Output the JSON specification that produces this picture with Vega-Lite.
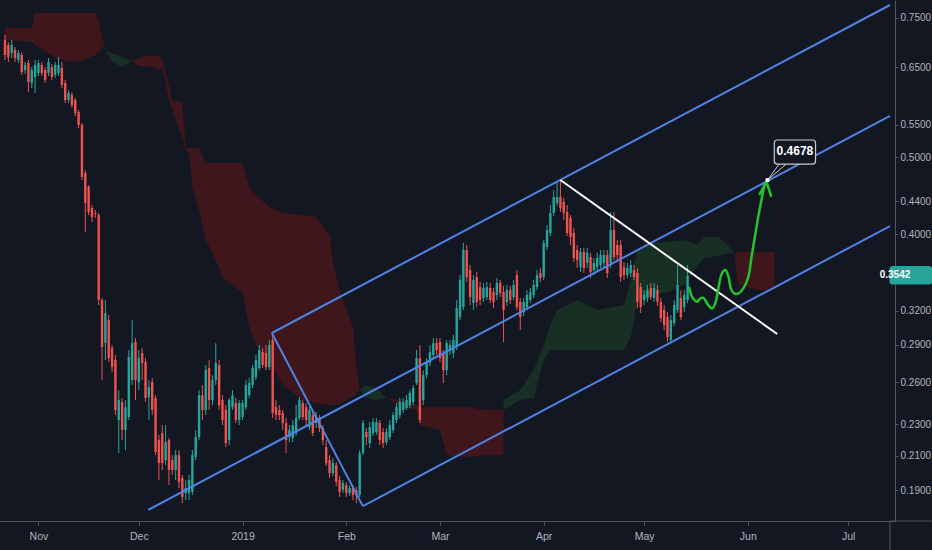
{
"$schema":"https://vega.github.io/schema/vega-lite/v6.json",
"width":895,"height":521,
"autosize":{"type":"none"},
"padding":{"left":0,"top":0,"right":37,"bottom":29},
"background":"#131722",
"config":{"view":{"stroke":null},"axis":{"grid":false,"labelFont":"Liberation Sans Narrow, Liberation Sans","labelFontSize":10,"labelColor":"#b2b5be","domainColor":"#50545f","tickColor":"#50545f"}},
"datasets":{
"candles":[
{"t":"2018-10-22","o":0.7035,"h":0.7139,"l":0.6638,"c":0.6736},
{"t":"2018-10-23","o":0.6934,"h":0.6994,"l":0.6599,"c":0.6696},
{"t":"2018-10-24","o":0.6775,"h":0.7035,"l":0.6677,"c":0.6934},
{"t":"2018-10-25","o":0.6834,"h":0.6893,"l":0.6599,"c":0.6677},
{"t":"2018-10-26","o":0.6638,"h":0.6834,"l":0.6580,"c":0.6775},
{"t":"2018-10-27","o":0.6736,"h":0.6794,"l":0.6354,"c":0.6410},
{"t":"2018-10-28","o":0.6447,"h":0.6599,"l":0.6372,"c":0.6542},
{"t":"2018-10-29","o":0.6580,"h":0.6638,"l":0.6048,"c":0.6226},
{"t":"2018-10-30","o":0.6208,"h":0.6504,"l":0.6118,"c":0.6447},
{"t":"2018-10-31","o":0.6317,"h":0.6638,"l":0.6030,"c":0.6542},
{"t":"2018-11-01","o":0.6391,"h":0.6638,"l":0.6335,"c":0.6580},
{"t":"2018-11-02","o":0.6542,"h":0.6599,"l":0.6335,"c":0.6391},
{"t":"2018-11-03","o":0.6447,"h":0.6504,"l":0.6208,"c":0.6262},
{"t":"2018-11-04","o":0.6391,"h":0.6677,"l":0.6335,"c":0.6599},
{"t":"2018-11-05","o":0.6504,"h":0.6561,"l":0.6262,"c":0.6317},
{"t":"2018-11-06","o":0.6354,"h":0.6599,"l":0.6299,"c":0.6542},
{"t":"2018-11-07","o":0.6391,"h":0.6696,"l":0.6335,"c":0.6542},
{"t":"2018-11-08","o":0.6485,"h":0.6599,"l":0.6118,"c":0.6172},
{"t":"2018-11-09","o":0.6208,"h":0.6262,"l":0.5857,"c":0.5908},
{"t":"2018-11-10","o":0.5908,"h":0.6083,"l":0.5857,"c":0.6030},
{"t":"2018-11-11","o":0.5995,"h":0.6048,"l":0.5772,"c":0.5823},
{"t":"2018-11-12","o":0.5908,"h":0.5943,"l":0.5640,"c":0.5689},
{"t":"2018-11-13","o":0.5706,"h":0.5739,"l":0.5446,"c":0.5494},
{"t":"2018-11-14","o":0.5494,"h":0.5526,"l":0.4681,"c":0.4722},
{"t":"2018-11-15","o":0.4777,"h":0.4819,"l":0.4024,"c":0.4379},
{"t":"2018-11-16","o":0.4586,"h":0.4614,"l":0.4228,"c":0.4265},
{"t":"2018-11-17","o":0.4315,"h":0.4353,"l":0.4143,"c":0.4203},
{"t":"2018-11-18","o":0.4253,"h":0.4290,"l":0.4191,"c":0.4240},
{"t":"2018-11-19","o":0.4228,"h":0.4253,"l":0.3254,"c":0.3302},
{"t":"2018-11-20","o":0.3302,"h":0.3321,"l":0.2616,"c":0.2880},
{"t":"2018-11-21","o":0.2913,"h":0.3302,"l":0.2773,"c":0.3179},
{"t":"2018-11-22","o":0.3115,"h":0.3161,"l":0.2757,"c":0.2789},
{"t":"2018-11-23","o":0.2871,"h":0.2897,"l":0.2677,"c":0.2717},
{"t":"2018-11-24","o":0.2773,"h":0.2814,"l":0.2363,"c":0.2398},
{"t":"2018-11-25","o":0.2329,"h":0.2541,"l":0.2115,"c":0.2468},
{"t":"2018-11-26","o":0.2454,"h":0.2483,"l":0.2197,"c":0.2262},
{"t":"2018-11-27","o":0.2262,"h":0.2468,"l":0.2134,"c":0.2418},
{"t":"2018-11-28","o":0.2350,"h":0.2855,"l":0.2329,"c":0.2797},
{"t":"2018-11-29","o":0.2616,"h":0.3115,"l":0.2578,"c":0.2913},
{"t":"2018-11-30","o":0.2922,"h":0.2956,"l":0.2468,"c":0.2616},
{"t":"2018-12-01","o":0.2601,"h":0.2855,"l":0.2541,"c":0.2789},
{"t":"2018-12-02","o":0.2830,"h":0.2871,"l":0.2616,"c":0.2749},
{"t":"2018-12-03","o":0.2757,"h":0.2789,"l":0.2454,"c":0.2483},
{"t":"2018-12-04","o":0.2490,"h":0.2616,"l":0.2329,"c":0.2563},
{"t":"2018-12-05","o":0.2601,"h":0.2631,"l":0.2363,"c":0.2398},
{"t":"2018-12-06","o":0.2483,"h":0.2504,"l":0.2103,"c":0.2122},
{"t":"2018-12-07","o":0.2197,"h":0.2229,"l":0.1956,"c":0.2055},
{"t":"2018-12-08","o":0.2242,"h":0.2295,"l":0.2014,"c":0.2055},
{"t":"2018-12-09","o":0.2073,"h":0.2295,"l":0.2043,"c":0.2184},
{"t":"2018-12-10","o":0.2197,"h":0.2210,"l":0.1928,"c":0.2014},
{"t":"2018-12-11","o":0.2073,"h":0.2103,"l":0.1985,"c":0.2014},
{"t":"2018-12-12","o":0.2014,"h":0.2134,"l":0.1956,"c":0.2103},
{"t":"2018-12-13","o":0.2103,"h":0.2134,"l":0.1911,"c":0.1945},
{"t":"2018-12-14","o":0.1968,"h":0.1985,"l":0.1829,"c":0.1862},
{"t":"2018-12-15","o":0.1883,"h":0.1956,"l":0.1845,"c":0.1911},
{"t":"2018-12-16","o":0.1883,"h":0.1985,"l":0.1845,"c":0.1956},
{"t":"2018-12-17","o":0.1889,"h":0.2134,"l":0.1873,"c":0.2103},
{"t":"2018-12-18","o":0.2091,"h":0.2262,"l":0.2073,"c":0.2216},
{"t":"2018-12-19","o":0.2216,"h":0.2541,"l":0.2197,"c":0.2504},
{"t":"2018-12-20","o":0.2504,"h":0.2578,"l":0.2329,"c":0.2398},
{"t":"2018-12-21","o":0.2398,"h":0.2733,"l":0.2363,"c":0.2693},
{"t":"2018-12-22","o":0.2709,"h":0.2773,"l":0.2398,"c":0.2468},
{"t":"2018-12-23","o":0.2468,"h":0.2654,"l":0.2432,"c":0.2616},
{"t":"2018-12-24","o":0.2616,"h":0.2913,"l":0.2578,"c":0.2749},
{"t":"2018-12-25","o":0.2733,"h":0.2773,"l":0.2398,"c":0.2432},
{"t":"2018-12-26","o":0.2468,"h":0.2504,"l":0.2295,"c":0.2329},
{"t":"2018-12-27","o":0.2398,"h":0.2432,"l":0.2153,"c":0.2178},
{"t":"2018-12-28","o":0.2197,"h":0.2483,"l":0.2165,"c":0.2468},
{"t":"2018-12-29","o":0.2418,"h":0.2541,"l":0.2398,"c":0.2504},
{"t":"2018-12-30","o":0.2447,"h":0.2483,"l":0.2309,"c":0.2329},
{"t":"2018-12-31","o":0.2329,"h":0.2468,"l":0.2295,"c":0.2447},
{"t":"2019-01-01","o":0.2350,"h":0.2468,"l":0.2329,"c":0.2447},
{"t":"2019-01-02","o":0.2418,"h":0.2616,"l":0.2398,"c":0.2578},
{"t":"2019-01-03","o":0.2504,"h":0.2631,"l":0.2483,"c":0.2593},
{"t":"2019-01-04","o":0.2578,"h":0.2733,"l":0.2556,"c":0.2709},
{"t":"2019-01-05","o":0.2639,"h":0.2814,"l":0.2616,"c":0.2773},
{"t":"2019-01-06","o":0.2709,"h":0.2897,"l":0.2693,"c":0.2855},
{"t":"2019-01-07","o":0.2838,"h":0.2871,"l":0.2709,"c":0.2733},
{"t":"2019-01-08","o":0.2830,"h":0.2897,"l":0.2693,"c":0.2717},
{"t":"2019-01-09","o":0.2717,"h":0.2939,"l":0.2693,"c":0.2897},
{"t":"2019-01-10","o":0.2939,"h":0.3000,"l":0.2343,"c":0.2377},
{"t":"2019-01-11","o":0.2418,"h":0.2468,"l":0.2329,"c":0.2363},
{"t":"2019-01-12","o":0.2398,"h":0.2432,"l":0.2329,"c":0.2363},
{"t":"2019-01-13","o":0.2377,"h":0.2398,"l":0.2262,"c":0.2309},
{"t":"2019-01-14","o":0.2309,"h":0.2343,"l":0.2115,"c":0.2197},
{"t":"2019-01-15","o":0.2216,"h":0.2295,"l":0.2184,"c":0.2262},
{"t":"2019-01-16","o":0.2210,"h":0.2329,"l":0.2184,"c":0.2295},
{"t":"2019-01-17","o":0.2242,"h":0.2432,"l":0.2223,"c":0.2343},
{"t":"2019-01-18","o":0.2343,"h":0.2490,"l":0.2329,"c":0.2468},
{"t":"2019-01-19","o":0.2447,"h":0.2468,"l":0.2329,"c":0.2350},
{"t":"2019-01-20","o":0.2418,"h":0.2447,"l":0.2295,"c":0.2329},
{"t":"2019-01-21","o":0.2282,"h":0.2432,"l":0.2262,"c":0.2398},
{"t":"2019-01-22","o":0.2363,"h":0.2384,"l":0.2223,"c":0.2242},
{"t":"2019-01-23","o":0.2309,"h":0.2384,"l":0.2275,"c":0.2350},
{"t":"2019-01-24","o":0.2343,"h":0.2363,"l":0.2249,"c":0.2275},
{"t":"2019-01-25","o":0.2275,"h":0.2295,"l":0.2165,"c":0.2197},
{"t":"2019-01-26","o":0.2153,"h":0.2197,"l":0.2037,"c":0.2055},
{"t":"2019-01-27","o":0.2073,"h":0.2103,"l":0.1968,"c":0.1996},
{"t":"2019-01-28","o":0.1996,"h":0.2085,"l":0.1979,"c":0.2055},
{"t":"2019-01-29","o":0.2043,"h":0.2061,"l":0.1922,"c":0.1945},
{"t":"2019-01-30","o":0.1956,"h":0.1979,"l":0.1862,"c":0.1889},
{"t":"2019-01-31","o":0.1900,"h":0.1956,"l":0.1883,"c":0.1939},
{"t":"2019-02-01","o":0.1928,"h":0.1945,"l":0.1862,"c":0.1883},
{"t":"2019-02-02","o":0.1883,"h":0.1928,"l":0.1867,"c":0.1911},
{"t":"2019-02-03","o":0.1911,"h":0.1928,"l":0.1845,"c":0.1873},
{"t":"2019-02-04","o":0.1900,"h":0.1917,"l":0.1829,"c":0.1873},
{"t":"2019-02-05","o":0.1873,"h":0.2134,"l":0.1862,"c":0.2115},
{"t":"2019-02-06","o":0.2115,"h":0.2329,"l":0.2103,"c":0.2309},
{"t":"2019-02-07","o":0.2249,"h":0.2275,"l":0.2165,"c":0.2216},
{"t":"2019-02-08","o":0.2178,"h":0.2315,"l":0.2147,"c":0.2282},
{"t":"2019-02-09","o":0.2242,"h":0.2343,"l":0.2223,"c":0.2315},
{"t":"2019-02-10","o":0.2249,"h":0.2343,"l":0.2229,"c":0.2315},
{"t":"2019-02-11","o":0.2309,"h":0.2329,"l":0.2165,"c":0.2197},
{"t":"2019-02-12","o":0.2249,"h":0.2275,"l":0.2147,"c":0.2178},
{"t":"2019-02-13","o":0.2184,"h":0.2275,"l":0.2165,"c":0.2249},
{"t":"2019-02-14","o":0.2216,"h":0.2329,"l":0.2197,"c":0.2295},
{"t":"2019-02-15","o":0.2262,"h":0.2384,"l":0.2242,"c":0.2363},
{"t":"2019-02-16","o":0.2329,"h":0.2447,"l":0.2309,"c":0.2418},
{"t":"2019-02-17","o":0.2363,"h":0.2483,"l":0.2343,"c":0.2454},
{"t":"2019-02-18","o":0.2398,"h":0.2483,"l":0.2377,"c":0.2454},
{"t":"2019-02-19","o":0.2411,"h":0.2504,"l":0.2398,"c":0.2468},
{"t":"2019-02-20","o":0.2432,"h":0.2541,"l":0.2411,"c":0.2519},
{"t":"2019-02-21","o":0.2454,"h":0.2578,"l":0.2432,"c":0.2556},
{"t":"2019-02-22","o":0.2593,"h":0.2855,"l":0.2578,"c":0.2789},
{"t":"2019-02-23","o":0.2789,"h":0.2897,"l":0.2309,"c":0.2329},
{"t":"2019-02-24","o":0.2468,"h":0.2693,"l":0.2432,"c":0.2654},
{"t":"2019-02-25","o":0.2654,"h":0.2789,"l":0.2631,"c":0.2757},
{"t":"2019-02-26","o":0.2749,"h":0.2897,"l":0.2725,"c":0.2838},
{"t":"2019-02-27","o":0.2814,"h":0.2956,"l":0.2789,"c":0.2913},
{"t":"2019-02-28","o":0.2913,"h":0.2956,"l":0.2814,"c":0.2855},
{"t":"2019-03-01","o":0.2922,"h":0.2956,"l":0.2757,"c":0.2789},
{"t":"2019-03-02","o":0.2830,"h":0.2855,"l":0.2593,"c":0.2693},
{"t":"2019-03-03","o":0.2693,"h":0.2939,"l":0.2654,"c":0.2913},
{"t":"2019-03-04","o":0.2855,"h":0.2939,"l":0.2814,"c":0.2897},
{"t":"2019-03-05","o":0.2830,"h":0.2982,"l":0.2789,"c":0.2939},
{"t":"2019-03-06","o":0.2880,"h":0.3302,"l":0.2855,"c":0.3226},
{"t":"2019-03-07","o":0.3142,"h":0.3551,"l":0.3115,"c":0.3500},
{"t":"2019-03-08","o":0.3235,"h":0.3898,"l":0.3207,"c":0.3819},
{"t":"2019-03-09","o":0.3819,"h":0.3875,"l":0.3480,"c":0.3530},
{"t":"2019-03-10","o":0.3603,"h":0.3656,"l":0.3254,"c":0.3330},
{"t":"2019-03-11","o":0.3273,"h":0.3551,"l":0.3207,"c":0.3500},
{"t":"2019-03-12","o":0.3530,"h":0.3582,"l":0.3235,"c":0.3283},
{"t":"2019-03-13","o":0.3429,"h":0.3480,"l":0.3254,"c":0.3302},
{"t":"2019-03-14","o":0.3321,"h":0.3470,"l":0.3283,"c":0.3420},
{"t":"2019-03-15","o":0.3330,"h":0.3480,"l":0.3302,"c":0.3429},
{"t":"2019-03-16","o":0.3420,"h":0.3470,"l":0.3273,"c":0.3302},
{"t":"2019-03-17","o":0.3379,"h":0.3420,"l":0.3226,"c":0.3283},
{"t":"2019-03-18","o":0.3350,"h":0.3520,"l":0.3302,"c":0.3470},
{"t":"2019-03-19","o":0.3470,"h":0.3500,"l":0.3330,"c":0.3369},
{"t":"2019-03-20","o":0.3379,"h":0.3440,"l":0.2922,"c":0.3207},
{"t":"2019-03-21","o":0.3283,"h":0.3450,"l":0.3245,"c":0.3399},
{"t":"2019-03-22","o":0.3399,"h":0.3440,"l":0.3264,"c":0.3302},
{"t":"2019-03-23","o":0.3330,"h":0.3500,"l":0.3302,"c":0.3450},
{"t":"2019-03-24","o":0.3551,"h":0.3603,"l":0.3207,"c":0.3235},
{"t":"2019-03-25","o":0.3283,"h":0.3321,"l":0.3026,"c":0.3142},
{"t":"2019-03-26","o":0.3188,"h":0.3321,"l":0.3152,"c":0.3283},
{"t":"2019-03-27","o":0.3235,"h":0.3399,"l":0.3207,"c":0.3350},
{"t":"2019-03-28","o":0.3302,"h":0.3420,"l":0.3273,"c":0.3379},
{"t":"2019-03-29","o":0.3350,"h":0.3500,"l":0.3321,"c":0.3450},
{"t":"2019-03-30","o":0.3429,"h":0.3603,"l":0.3399,"c":0.3551},
{"t":"2019-03-31","o":0.3572,"h":0.3624,"l":0.3480,"c":0.3520},
{"t":"2019-04-01","o":0.3530,"h":0.3932,"l":0.3500,"c":0.3898},
{"t":"2019-04-02","o":0.3853,"h":0.4107,"l":0.3819,"c":0.4048},
{"t":"2019-04-03","o":0.4013,"h":0.4353,"l":0.3978,"c":0.4253},
{"t":"2019-04-04","o":0.4253,"h":0.4547,"l":0.4216,"c":0.4455},
{"t":"2019-04-05","o":0.4379,"h":0.4654,"l":0.4341,"c":0.4455},
{"t":"2019-04-06","o":0.4455,"h":0.4681,"l":0.4265,"c":0.4315},
{"t":"2019-04-07","o":0.4391,"h":0.4442,"l":0.4167,"c":0.4253},
{"t":"2019-04-08","o":0.4265,"h":0.4353,"l":0.3978,"c":0.4013},
{"t":"2019-04-09","o":0.4191,"h":0.4228,"l":0.3875,"c":0.3966},
{"t":"2019-04-10","o":0.4013,"h":0.4071,"l":0.3687,"c":0.3731},
{"t":"2019-04-11","o":0.3819,"h":0.3875,"l":0.3624,"c":0.3709},
{"t":"2019-04-12","o":0.3634,"h":0.3842,"l":0.3582,"c":0.3797},
{"t":"2019-04-13","o":0.3797,"h":0.3842,"l":0.3572,"c":0.3624},
{"t":"2019-04-14","o":0.3677,"h":0.3842,"l":0.3624,"c":0.3786},
{"t":"2019-04-15","o":0.3742,"h":0.3786,"l":0.3520,"c":0.3582},
{"t":"2019-04-16","o":0.3603,"h":0.3731,"l":0.3551,"c":0.3677},
{"t":"2019-04-17","o":0.3634,"h":0.3786,"l":0.3582,"c":0.3731},
{"t":"2019-04-18","o":0.3656,"h":0.3819,"l":0.3624,"c":0.3764},
{"t":"2019-04-19","o":0.3677,"h":0.3819,"l":0.3624,"c":0.3764},
{"t":"2019-04-20","o":0.3764,"h":0.3819,"l":0.3520,"c":0.3572},
{"t":"2019-04-21","o":0.3677,"h":0.4265,"l":0.3624,"c":0.4048},
{"t":"2019-04-22","o":0.4048,"h":0.4265,"l":0.3709,"c":0.3742},
{"t":"2019-04-23","o":0.3875,"h":0.3932,"l":0.3687,"c":0.3764},
{"t":"2019-04-24","o":0.3875,"h":0.3932,"l":0.3480,"c":0.3530},
{"t":"2019-04-25","o":0.3634,"h":0.3687,"l":0.3500,"c":0.3551},
{"t":"2019-04-26","o":0.3551,"h":0.3677,"l":0.3520,"c":0.3624},
{"t":"2019-04-27","o":0.3572,"h":0.3709,"l":0.3530,"c":0.3656},
{"t":"2019-04-28","o":0.3603,"h":0.3656,"l":0.3500,"c":0.3530},
{"t":"2019-04-29","o":0.3572,"h":0.3624,"l":0.3226,"c":0.3283},
{"t":"2019-04-30","o":0.3429,"h":0.3470,"l":0.3179,"c":0.3235},
{"t":"2019-05-01","o":0.3302,"h":0.3399,"l":0.3254,"c":0.3350},
{"t":"2019-05-02","o":0.3321,"h":0.3450,"l":0.3283,"c":0.3399},
{"t":"2019-05-03","o":0.3420,"h":0.3470,"l":0.3302,"c":0.3330},
{"t":"2019-05-04","o":0.3321,"h":0.3470,"l":0.3283,"c":0.3420},
{"t":"2019-05-05","o":0.3399,"h":0.3450,"l":0.3245,"c":0.3283},
{"t":"2019-05-06","o":0.3283,"h":0.3321,"l":0.3097,"c":0.3133},
{"t":"2019-05-07","o":0.3207,"h":0.3254,"l":0.3026,"c":0.3070},
{"t":"2019-05-08","o":0.3142,"h":0.3188,"l":0.2922,"c":0.2965},
{"t":"2019-05-09","o":0.2939,"h":0.3161,"l":0.2913,"c":0.3115},
{"t":"2019-05-10","o":0.3088,"h":0.3302,"l":0.3061,"c":0.3254},
{"t":"2019-05-11","o":0.3207,"h":0.3656,"l":0.3179,"c":0.3450},
{"t":"2019-05-12","o":0.3321,"h":0.3399,"l":0.3115,"c":0.3142},
{"t":"2019-05-13","o":0.3235,"h":0.3399,"l":0.3188,"c":0.3350},
{"t":"2019-05-14","o":0.3302,"h":0.3656,"l":0.3273,"c":0.3542}
],
"cloudRed":[
{"s":1,"t":"2018-10-22","a":0.7286,"b":0.7035},
{"s":1,"t":"2018-10-30","a":0.7286,"b":0.6994},
{"s":1,"t":"2018-10-31","a":0.7610,"b":0.6934},
{"s":1,"t":"2018-11-07","a":0.7610,"b":0.6638},
{"s":1,"t":"2018-11-13","a":0.7610,"b":0.6599},
{"s":1,"t":"2018-11-18","a":0.7610,"b":0.6736},
{"s":1,"t":"2018-11-19","a":0.7457,"b":0.6794},
{"s":1,"t":"2018-11-20","a":0.7118,"b":0.6893},
{"s":1,"t":"2018-11-21","a":0.6834,"b":0.6834},
{"s":3,"t":"2018-11-29","a":0.6619,"b":0.6619},
{"s":3,"t":"2018-12-01","a":0.6677,"b":0.6523},
{"s":3,"t":"2018-12-05","a":0.6736,"b":0.6504},
{"s":3,"t":"2018-12-07","a":0.6716,"b":0.6447},
{"s":3,"t":"2018-12-08","a":0.6638,"b":0.6485},
{"s":3,"t":"2018-12-10","a":0.6172,"b":0.5908},
{"s":3,"t":"2018-12-11","a":0.5908,"b":0.5739},
{"s":3,"t":"2018-12-14","a":0.5857,"b":0.5290},
{"s":3,"t":"2018-12-15","a":0.5153,"b":0.5108},
{"s":3,"t":"2018-12-16","a":0.5138,"b":0.5064},
{"s":3,"t":"2018-12-17","a":0.5138,"b":0.4586},
{"s":3,"t":"2018-12-19","a":0.5138,"b":0.4290},
{"s":3,"t":"2018-12-21","a":0.4919,"b":0.3932},
{"s":3,"t":"2018-12-24","a":0.4919,"b":0.3709},
{"s":3,"t":"2018-12-26","a":0.4919,"b":0.3530},
{"s":3,"t":"2018-12-29","a":0.4919,"b":0.3450},
{"s":3,"t":"2019-01-01","a":0.4919,"b":0.3369},
{"s":3,"t":"2019-01-03","a":0.4586,"b":0.3052},
{"s":3,"t":"2019-01-05","a":0.4482,"b":0.2897},
{"s":3,"t":"2019-01-09","a":0.4328,"b":0.2773},
{"s":3,"t":"2019-01-13","a":0.4253,"b":0.2578},
{"s":3,"t":"2019-01-19","a":0.4228,"b":0.2468},
{"s":3,"t":"2019-01-23","a":0.4203,"b":0.2447},
{"s":3,"t":"2019-01-27","a":0.3990,"b":0.2432},
{"s":3,"t":"2019-01-28","a":0.3687,"b":0.2432},
{"s":3,"t":"2019-01-30","a":0.3399,"b":0.2439},
{"s":3,"t":"2019-02-01","a":0.3207,"b":0.2468},
{"s":3,"t":"2019-02-03","a":0.3052,"b":0.2490},
{"s":3,"t":"2019-02-04","a":0.2733,"b":0.2519},
{"s":3,"t":"2019-02-05","a":0.2541,"b":0.2541},
{"s":5,"t":"2019-02-13","a":0.2483,"b":0.2483},
{"s":5,"t":"2019-02-17","a":0.2468,"b":0.2432},
{"s":5,"t":"2019-02-22","a":0.2432,"b":0.2398},
{"s":5,"t":"2019-02-23","a":0.2418,"b":0.2295},
{"s":5,"t":"2019-03-01","a":0.2418,"b":0.2262},
{"s":5,"t":"2019-03-03","a":0.2418,"b":0.2103},
{"s":5,"t":"2019-03-10","a":0.2418,"b":0.2091},
{"s":5,"t":"2019-03-14","a":0.2398,"b":0.2103},
{"s":5,"t":"2019-03-20","a":0.2398,"b":0.2103},
{"s":7,"t":"2019-05-28","a":0.3786,"b":0.3786},
{"s":7,"t":"2019-05-29","a":0.3797,"b":0.3450},
{"s":7,"t":"2019-06-04","a":0.3797,"b":0.3399},
{"s":7,"t":"2019-06-09","a":0.3797,"b":0.3399}
],
"cloudGreen":[
{"s":2,"t":"2018-11-21","a":0.6834,"b":0.6834},
{"s":2,"t":"2018-11-23","a":0.6775,"b":0.6599},
{"s":2,"t":"2018-11-26","a":0.6696,"b":0.6504},
{"s":2,"t":"2018-11-28","a":0.6638,"b":0.6580},
{"s":2,"t":"2018-11-29","a":0.6619,"b":0.6619},
{"s":4,"t":"2019-02-05","a":0.2541,"b":0.2541},
{"s":4,"t":"2019-02-07","a":0.2578,"b":0.2483},
{"s":4,"t":"2019-02-10","a":0.2556,"b":0.2468},
{"s":4,"t":"2019-02-13","a":0.2483,"b":0.2483},
{"s":6,"t":"2019-03-20","a":0.2468,"b":0.2398},
{"s":6,"t":"2019-03-25","a":0.2541,"b":0.2468},
{"s":6,"t":"2019-03-29","a":0.2693,"b":0.2483},
{"s":6,"t":"2019-04-01","a":0.2897,"b":0.2773},
{"s":6,"t":"2019-04-03","a":0.3070,"b":0.2855},
{"s":6,"t":"2019-04-05","a":0.3207,"b":0.2855},
{"s":6,"t":"2019-04-11","a":0.3302,"b":0.2855},
{"s":6,"t":"2019-04-17","a":0.3207,"b":0.2855},
{"s":6,"t":"2019-04-25","a":0.3254,"b":0.2855},
{"s":6,"t":"2019-04-27","a":0.3500,"b":0.2965},
{"s":6,"t":"2019-04-29","a":0.3819,"b":0.3302},
{"s":6,"t":"2019-05-03","a":0.3898,"b":0.3350},
{"s":6,"t":"2019-05-08","a":0.3909,"b":0.3379},
{"s":6,"t":"2019-05-13","a":0.3932,"b":0.3450},
{"s":6,"t":"2019-05-17","a":0.3875,"b":0.3656},
{"s":6,"t":"2019-05-19","a":0.3966,"b":0.3731},
{"s":6,"t":"2019-05-23","a":0.3966,"b":0.3753},
{"s":6,"t":"2019-05-26","a":0.3875,"b":0.3786},
{"s":6,"t":"2019-05-28","a":0.3786,"b":0.3786}
],
"channel":[
{"s":"upper","t":"2019-01-09T18:00:00Z","p":0.3000},
{"s":"upper","t":"2019-07-13T12:00:00Z","p":0.7789},
{"s":"middle","t":"2018-12-03T19:00:00Z","p":0.1793},
{"s":"middle","t":"2019-07-13T12:00:00Z","p":0.5640},
{"s":"link","t":"2019-01-09T18:00:00Z","p":0.3000},
{"s":"link","t":"2019-02-05T23:00:00Z","p":0.1813},
{"s":"lower","t":"2019-02-05T23:00:00Z","p":0.1813},
{"s":"lower","t":"2019-07-13T12:00:00Z","p":0.4095}
],
"trend":[
{"s":"trend","t":"2019-04-06T00:00:00Z","p":0.4681},
{"s":"trend","t":"2019-06-09T19:00:00Z","p":0.2991}
],
"pointer":[
{"s":"p1","t":"2019-06-06T21:00:00Z","p":0.4681},
{"s":"p1","t":"2019-06-10T10:00:00Z","p":0.4904},
{"s":"p2","t":"2019-06-06T21:00:00Z","p":0.4681},
{"s":"p2","t":"2019-06-12T12:00:00Z","p":0.4904}
],
"dot":[
{"t":"2019-06-06T21:00:00Z","p":0.4681}
],
"frame":[
{"t":"2019-07-13T12:00:00Z","t2":"2019-07-26T00:00:00Z","p":0.17363,"p2":0.17363},
{"t":"2019-07-13T12:00:00Z","t2":"2019-07-13T12:00:00Z","p":0.17363,"p2":0.155}
],
"path":[
{"i":1,"t":"2019-05-14T10:00:00Z","p":0.3432},
{"i":2,"t":"2019-05-15T09:00:00Z","p":0.3333},
{"i":3,"t":"2019-05-16T21:00:00Z","p":0.3286},
{"i":4,"t":"2019-05-17T20:00:00Z","p":0.3318},
{"i":5,"t":"2019-05-18T20:00:00Z","p":0.3321},
{"i":6,"t":"2019-05-19T20:00:00Z","p":0.3270},
{"i":7,"t":"2019-05-21T07:00:00Z","p":0.3222},
{"i":8,"t":"2019-05-22T07:00:00Z","p":0.3270},
{"i":9,"t":"2019-05-23T07:00:00Z","p":0.3432},
{"i":10,"t":"2019-05-24T06:00:00Z","p":0.3568},
{"i":11,"t":"2019-05-25T06:00:00Z","p":0.3603},
{"i":12,"t":"2019-05-26T06:00:00Z","p":0.3533},
{"i":13,"t":"2019-05-26T22:00:00Z","p":0.3416},
{"i":14,"t":"2019-05-27T22:00:00Z","p":0.3366},
{"i":15,"t":"2019-05-29T05:00:00Z","p":0.3366},
{"i":16,"t":"2019-05-30T16:00:00Z","p":0.3416},
{"i":17,"t":"2019-06-01T04:00:00Z","p":0.3533},
{"i":18,"t":"2019-06-02T03:00:00Z","p":0.3745},
{"i":19,"t":"2019-06-03T03:00:00Z","p":0.3970},
{"i":20,"t":"2019-06-04T03:00:00Z","p":0.4207},
{"i":21,"t":"2019-06-05T02:00:00Z","p":0.4417},
{"i":22,"t":"2019-06-06T01:00:00Z","p":0.4614},
{"i":23,"t":"2019-06-06T14:00:00Z","p":0.4658}
],
"arrow":[
{"i":1,"t":"2019-06-04T10:00:00Z","p":0.4482},
{"i":2,"t":"2019-06-06T14:00:00Z","p":0.4658},
{"i":3,"t":"2019-06-08T01:00:00Z","p":0.4459}
],
"labels":[
{"t":"2019-06-08T22:00:00Z","t2":"2019-06-21T06:00:00Z","p":0.4904,"p2":0.5259,"tx":"2019-06-15T02:00:00Z","py":0.5093,"text":"0.4678","fill":"#131722","color":"#ffffff","stroke":"#c8cad0","align":"center","size":12},
{"t":"2019-07-13T12:00:00Z","t2":"2019-07-26T00:00:00Z","p":0.3460,"p2":0.3640,"tx":"2019-07-15T00:00:00Z","py":0.3548,"text":"0.3542","fill":"#26a69a","color":"#ffffff","stroke":"#26a69a","align":"left","size":10}
]
},
"layer":[
{"data":{"name":"cloudRed"},"mark":{"type":"area","color":"#3e161c","opacity":1},
 "encoding":{
  "x":{"field":"t","type":"temporal","scale":{"type":"utc","domain":[{"year":2018,"month":10,"date":22,"utc":true},{"year":2019,"month":7,"date":13,"hours":12,"utc":true}]},
   "axis":{"title":null,"values":[{"year":2018,"month":11,"date":1,"utc":true},{"year":2018,"month":12,"date":1,"utc":true},{"year":2019,"month":1,"date":1,"utc":true},{"year":2019,"month":2,"date":1,"utc":true},{"year":2019,"month":3,"date":1,"utc":true},{"year":2019,"month":4,"date":1,"utc":true},{"year":2019,"month":5,"date":1,"utc":true},{"year":2019,"month":6,"date":1,"utc":true},{"year":2019,"month":7,"date":1,"utc":true}],
    "labelExpr":"utcmonth(datum.value)==0 ? utcFormat(datum.value,'%Y') : utcFormat(datum.value,'%b')","tickSize":4,"labelPadding":6,"labelFontSize":10.5,"labelOverlap":false,"labelFlush":false}},
  "y":{"field":"a","type":"quantitative","scale":{"type":"log","domain":[0.17363,0.7903],"nice":false,"zero":false},
   "axis":{"title":null,"orient":"right","values":[0.19,0.21,0.23,0.26,0.29,0.32,0.4,0.44,0.5,0.55,0.65,0.75],"format":".4f","tickSize":3,"labelPadding":2,"labelOverlap":false,"labelFlush":false}},
  "y2":{"field":"b"},
  "detail":{"field":"s","type":"nominal"}}},
{"data":{"name":"cloudGreen"},"mark":{"type":"area","color":"#182f24","opacity":1},
 "encoding":{
  "x":{"field":"t","type":"temporal","scale":{"type":"utc","domain":[{"year":2018,"month":10,"date":22,"utc":true},{"year":2019,"month":7,"date":13,"hours":12,"utc":true}]}},
  "y":{"field":"a","type":"quantitative","scale":{"type":"log","domain":[0.17363,0.7903],"nice":false,"zero":false}},
  "y2":{"field":"b"},
  "detail":{"field":"s","type":"nominal"}}},
{"data":{"name":"frame"},"mark":{"type":"rule","color":"#50545f","strokeWidth":1},
 "encoding":{
  "x":{"field":"t","type":"temporal","scale":{"type":"utc","domain":[{"year":2018,"month":10,"date":22,"utc":true},{"year":2019,"month":7,"date":13,"hours":12,"utc":true}]}},
  "x2":{"field":"t2"},
  "y":{"field":"p","type":"quantitative","scale":{"type":"log","domain":[0.17363,0.7903],"nice":false,"zero":false}},
  "y2":{"field":"p2"}}},
{"data":{"name":"candles"},"mark":{"type":"rule","strokeWidth":1},
 "encoding":{
  "x":{"field":"t","type":"temporal","scale":{"type":"utc","domain":[{"year":2018,"month":10,"date":22,"utc":true},{"year":2019,"month":7,"date":13,"hours":12,"utc":true}]}},
  "y":{"field":"l","type":"quantitative","scale":{"type":"log","domain":[0.17363,0.7903],"nice":false,"zero":false}},
  "y2":{"field":"h"},
  "color":{"condition":{"test":"datum.c >= datum.o","value":"#26a69a"},"value":"#ef5350"}}},
{"data":{"name":"candles"},"mark":{"type":"bar","width":2.4},
 "encoding":{
  "x":{"field":"t","type":"temporal","scale":{"type":"utc","domain":[{"year":2018,"month":10,"date":22,"utc":true},{"year":2019,"month":7,"date":13,"hours":12,"utc":true}]}},
  "y":{"field":"o","type":"quantitative","scale":{"type":"log","domain":[0.17363,0.7903],"nice":false,"zero":false}},
  "y2":{"field":"c"},
  "color":{"condition":{"test":"datum.c >= datum.o","value":"#26a69a"},"value":"#ef5350"}}},
{"data":{"name":"channel"},"mark":{"type":"line","color":"#4e83e6","strokeWidth":2},
 "encoding":{
  "x":{"field":"t","type":"temporal","scale":{"type":"utc","domain":[{"year":2018,"month":10,"date":22,"utc":true},{"year":2019,"month":7,"date":13,"hours":12,"utc":true}]}},
  "y":{"field":"p","type":"quantitative","scale":{"type":"log","domain":[0.17363,0.7903],"nice":false,"zero":false}},
  "detail":{"field":"s","type":"nominal"}}},
{"data":{"name":"trend"},"mark":{"type":"line","color":"#ffffff","strokeWidth":2},
 "encoding":{
  "x":{"field":"t","type":"temporal","scale":{"type":"utc","domain":[{"year":2018,"month":10,"date":22,"utc":true},{"year":2019,"month":7,"date":13,"hours":12,"utc":true}]}},
  "y":{"field":"p","type":"quantitative","scale":{"type":"log","domain":[0.17363,0.7903],"nice":false,"zero":false}},
  "detail":{"field":"s","type":"nominal"}}},
{"data":{"name":"path"},"mark":{"type":"line","color":"#25c42a","strokeWidth":2.5,"interpolate":"catmull-rom"},
 "encoding":{
  "x":{"field":"t","type":"temporal","scale":{"type":"utc","domain":[{"year":2018,"month":10,"date":22,"utc":true},{"year":2019,"month":7,"date":13,"hours":12,"utc":true}]}},
  "y":{"field":"p","type":"quantitative","scale":{"type":"log","domain":[0.17363,0.7903],"nice":false,"zero":false}},
  "order":{"field":"i","type":"quantitative"}}},
{"data":{"name":"arrow"},"mark":{"type":"line","color":"#25c42a","strokeWidth":2.5,"strokeJoin":"round"},
 "encoding":{
  "x":{"field":"t","type":"temporal","scale":{"type":"utc","domain":[{"year":2018,"month":10,"date":22,"utc":true},{"year":2019,"month":7,"date":13,"hours":12,"utc":true}]}},
  "y":{"field":"p","type":"quantitative","scale":{"type":"log","domain":[0.17363,0.7903],"nice":false,"zero":false}},
  "order":{"field":"i","type":"quantitative"}}},
{"data":{"name":"pointer"},"mark":{"type":"line","color":"#c8cad0","strokeWidth":1},
 "encoding":{
  "x":{"field":"t","type":"temporal","scale":{"type":"utc","domain":[{"year":2018,"month":10,"date":22,"utc":true},{"year":2019,"month":7,"date":13,"hours":12,"utc":true}]}},
  "y":{"field":"p","type":"quantitative","scale":{"type":"log","domain":[0.17363,0.7903],"nice":false,"zero":false}},
  "detail":{"field":"s","type":"nominal"}}},
{"data":{"name":"labels"},"mark":{"type":"rect","strokeWidth":1.2,"cornerRadius":3},
 "encoding":{
  "x":{"field":"t","type":"temporal","scale":{"type":"utc","domain":[{"year":2018,"month":10,"date":22,"utc":true},{"year":2019,"month":7,"date":13,"hours":12,"utc":true}]}},
  "x2":{"field":"t2"},
  "y":{"field":"p","type":"quantitative","scale":{"type":"log","domain":[0.17363,0.7903],"nice":false,"zero":false}},
  "y2":{"field":"p2"},
  "fill":{"field":"fill","type":"nominal","scale":null},
  "stroke":{"field":"stroke","type":"nominal","scale":null}}},
{"data":{"name":"dot"},"mark":{"type":"square","size":14,"color":"#ffffff","opacity":1,"filled":true},
 "encoding":{
  "x":{"field":"t","type":"temporal","scale":{"type":"utc","domain":[{"year":2018,"month":10,"date":22,"utc":true},{"year":2019,"month":7,"date":13,"hours":12,"utc":true}]}},
  "y":{"field":"p","type":"quantitative","scale":{"type":"log","domain":[0.17363,0.7903],"nice":false,"zero":false}}}},
{"data":{"name":"labels"},"mark":{"type":"text","font":"Liberation Sans Narrow, Liberation Sans","fontWeight":"bold","baseline":"middle"},
 "encoding":{
  "x":{"field":"tx","type":"temporal","scale":{"type":"utc","domain":[{"year":2018,"month":10,"date":22,"utc":true},{"year":2019,"month":7,"date":13,"hours":12,"utc":true}]}},
  "y":{"field":"py","type":"quantitative","scale":{"type":"log","domain":[0.17363,0.7903],"nice":false,"zero":false}},
  "text":{"field":"text","type":"nominal"},
  "size":{"field":"size","type":"quantitative","scale":null},
  "align":{"field":"align","type":"nominal","scale":null},
  "color":{"field":"color","type":"nominal","scale":null}}}
]
}
